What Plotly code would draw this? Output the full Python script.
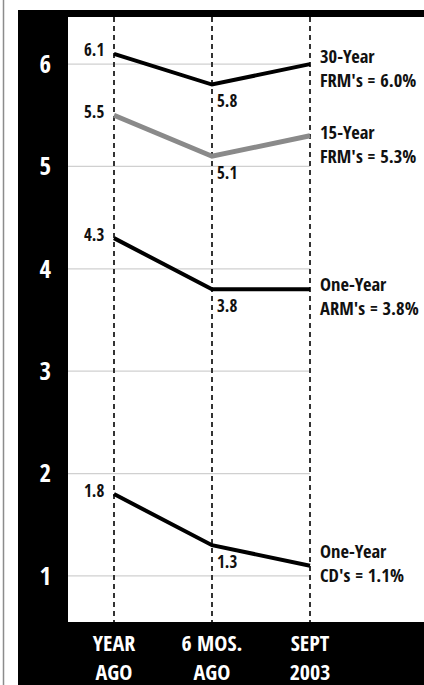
import plotly.graph_objects as go

# Interest-rate snapshot: year ago, six months ago, September 2003
periods = ["YEAR<br>AGO", "6 MOS.<br>AGO", "SEPT<br>2003"]
frm30 = [6.1, 5.8, 6.0]
frm15 = [5.5, 5.1, 5.3]
arm1 = [4.3, 3.8, 3.8]
cd1 = [1.8, 1.3, 1.1]
series_titles = ["30-Year", "15-Year", "One-Year", "One-Year"]
series_units = ["FRM's", "FRM's", "ARM's", "CD's"]
y_ticks = [1, 2, 3, 4, 5, 6]

# styling
W, H = 424, 685
M_L, M_R, M_T, M_B = 68, 0, 17, 63
X_RANGE = [-0.469, 3.163]
Y_RANGE = [0.55, 6.46]
line_colors = ["#000000", "#8a8a8a", "#000000", "#000000"]
line_widths = [4, 5, 4, 4]
end_label_shift = [-3, -8, -6, 3]   # px offset of the two-line end label block

COND = "Open Sans Condensed, Roboto Condensed, DejaVu Sans Condensed, sans-serif"

series = [frm30, frm15, arm1, cd1]
xs = list(range(len(periods)))

fig = go.Figure()
for vals, col, lw in zip(series, line_colors, line_widths):
    fig.add_trace(go.Scatter(
        x=xs, y=vals, mode="lines",
        line=dict(color=col, width=lw),
        hoverinfo="skip", showlegend=False,
    ))

plot_w = W - M_L - M_R
plot_h = H - M_T - M_B

def px_x(p):
    return (p - M_L) / plot_w

def px_y(p):
    return 1 - (p - M_T) / plot_h

annotations = []
for vals, title, unit, shift in zip(series, series_titles, series_units, end_label_shift):
    # first value: to the left of the starting point
    annotations.append(dict(
        x=xs[0], y=vals[0], text=f"{vals[0]:.1f}", showarrow=False,
        xanchor="right", yanchor="middle", xshift=-8, yshift=4,
        font=dict(family=COND, size=17, color="#111"),
    ))
    # middle value: below and to the right of the point
    annotations.append(dict(
        x=xs[1], y=vals[1], text=f"{vals[1]:.1f}", showarrow=False,
        xanchor="left", yanchor="middle", xshift=3, yshift=-16,
        font=dict(family=COND, size=17, color="#111"),
    ))
    # end label, two lines
    annotations.append(dict(
        x=xs[-1], y=vals[-1], text=f"{title}<br>{unit} = {vals[-1]:.1f}%",
        showarrow=False, align="left",
        xanchor="left", yanchor="middle", xshift=8, yshift=shift,
        font=dict(family=COND, size=18.5, color="#111"),
    ))

shapes = []
# black frame: top strip, left band, bottom band
shapes.append(dict(type="rect", xref="paper", yref="paper", layer="below",
                   x0=px_x(18), x1=px_x(W), y0=px_y(17), y1=px_y(10),
                   fillcolor="black", line=dict(width=0)))
shapes.append(dict(type="rect", xref="paper", yref="paper", layer="below",
                   x0=px_x(18), x1=px_x(68), y0=px_y(H), y1=px_y(10),
                   fillcolor="black", line=dict(width=0)))
shapes.append(dict(type="rect", xref="paper", yref="paper", layer="below",
                   x0=px_x(18), x1=px_x(W), y0=px_y(H), y1=px_y(622),
                   fillcolor="black", line=dict(width=0)))
# thin outer rule on the left
shapes.append(dict(type="line", xref="paper", yref="paper", layer="below",
                   x0=px_x(3.5), x1=px_x(3.5), y0=px_y(H), y1=px_y(0),
                   line=dict(color="#8c8c8c", width=1.5)))
# horizontal gridlines stop at the last period
for t in y_ticks:
    shapes.append(dict(type="line", xref="x", yref="y", layer="below",
                       x0=X_RANGE[0], x1=xs[-1], y0=t, y1=t,
                       line=dict(color="#d0d0d0", width=1.2)))

fig.update_layout(
    width=W, height=H,
    margin=dict(l=M_L, r=M_R, t=M_T, b=M_B, pad=0, autoexpand=False),
    paper_bgcolor="white", plot_bgcolor="white",
    showlegend=False,
    shapes=shapes, annotations=annotations,
    xaxis=dict(
        range=X_RANGE, tickvals=xs, ticktext=periods,
        showgrid=True, gridcolor="#333333", gridwidth=1.5, griddash="5px,4px",
        zeroline=False, showline=False, ticks="", fixedrange=True,
        tickfont=dict(family=COND, size=22, color="white"),
        ticklabelstandoff=6, automargin=False,
    ),
    yaxis=dict(
        range=Y_RANGE, tickvals=y_ticks,
        showgrid=False, zeroline=False, showline=False, ticks="",
        tickfont=dict(family=COND, size=25, color="white"),
        ticklabelstandoff=16, fixedrange=True, automargin=False,
    ),
)

fig.write_html("out.html", config={"displayModeBar": False})
